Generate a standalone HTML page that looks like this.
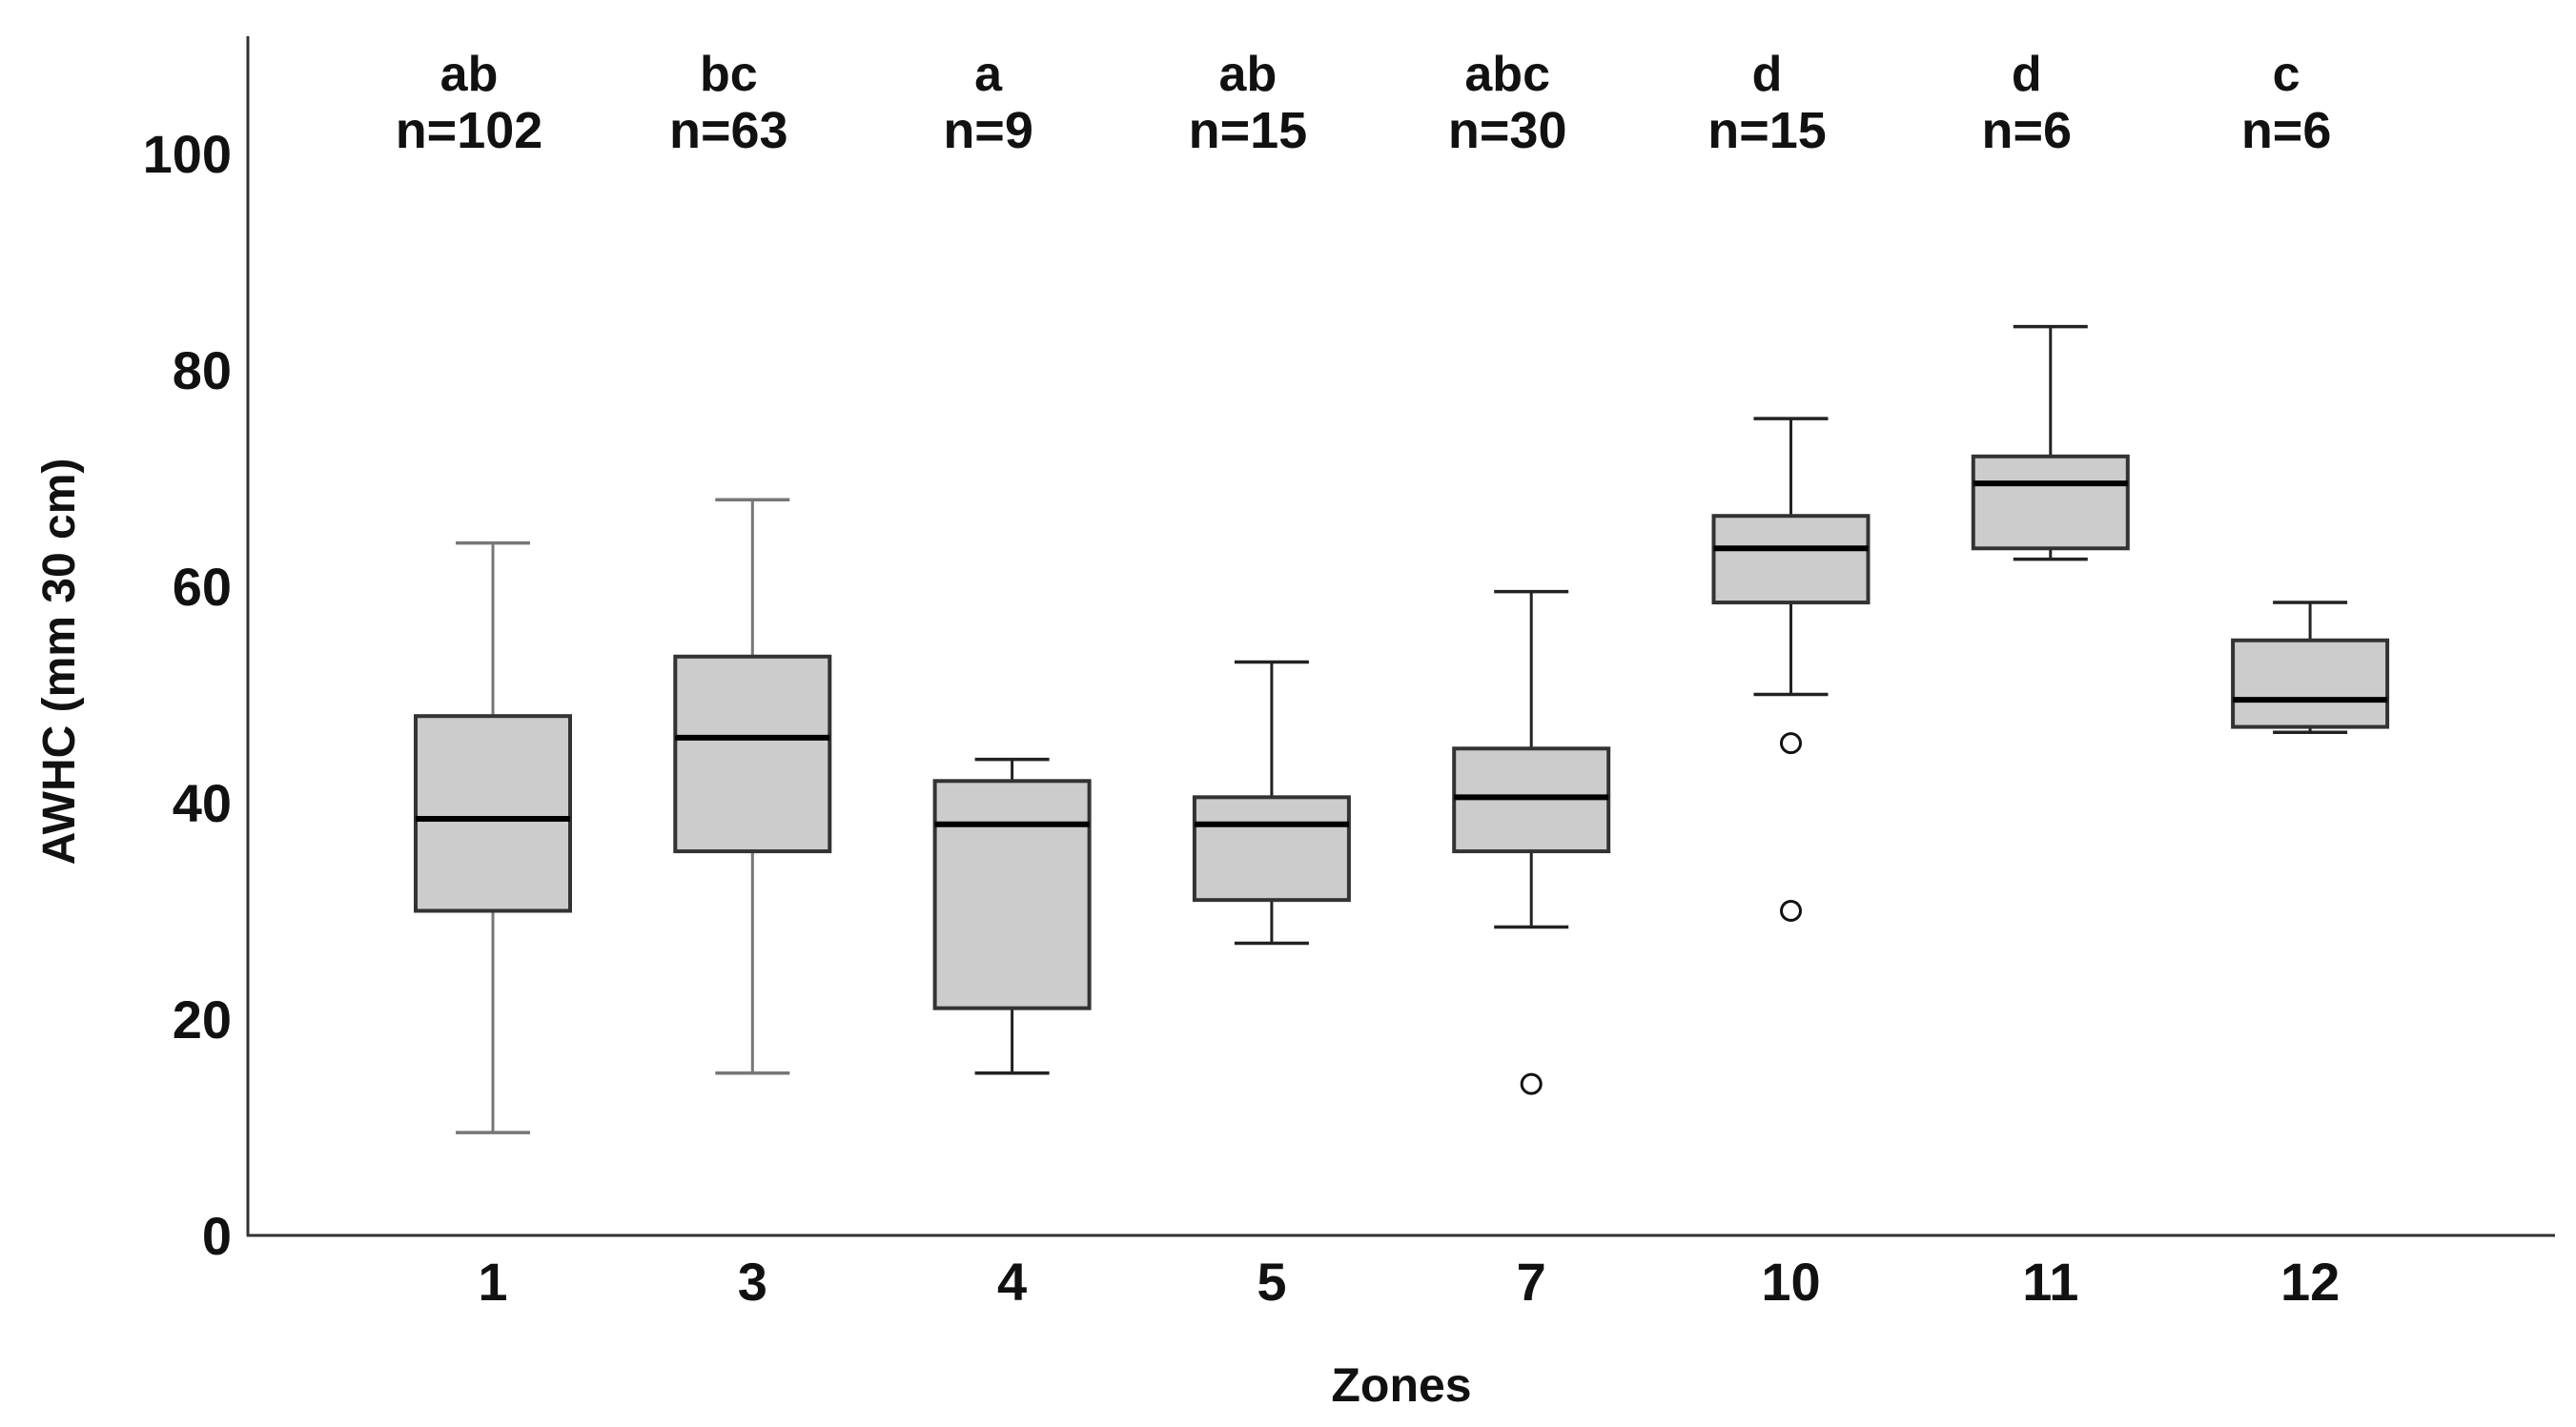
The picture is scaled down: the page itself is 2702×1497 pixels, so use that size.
<!DOCTYPE html>
<html><head><meta charset="utf-8"><style>
html,body{margin:0;padding:0;background:#fff}
svg{display:block}
text{font-family:"Liberation Sans",sans-serif;font-weight:bold;fill:#111}
</style></head><body>
<svg id="chart" width="2702" height="1497" viewBox="0 0 2702 1497" xmlns="http://www.w3.org/2000/svg">
<g id="axes"></g>
<g id="boxes"></g>
<g id="labels"></g>
<text x="1470" y="1470" font-size="50" text-anchor="middle">Zones</text>
<text transform="translate(78,694) rotate(-90)" font-size="48" text-anchor="middle">AWHC (mm 30 cm)</text>
</svg>
<script>
const categories = ["1","3","4","5","7","10","11","12"];
const whiskerHigh = [64,68,44,53,59.5,75.5,84,58.5];
const q3 = [48,53.5,42,40.5,45,66.5,72,55];
const median = [38.5,46,38,38,40.5,63.5,69.5,49.5];
const q1 = [30,35.5,21,31,35.5,58.5,63.5,47];
const whiskerLow = [9.5,15,15,27,28.5,50,62.5,46.5];
const outliers = [[],[],[],[],[14],[45.5,30],[],[]];
const groupLetters = ["ab","bc","a","ab","abc","d","d","c"];
const sampleSizes = ["n=102","n=63","n=9","n=15","n=30","n=15","n=6","n=6"];
const yTicks = [0,20,40,60,80,100];

const NS="http://www.w3.org/2000/svg";
const X0=260, Y0=1296, PXU=11.35, STEP=272.3, FIRST=517;
const y = v => Y0 - v*PXU;
const x = i => FIRST + i*STEP;
function mk(tag, attrs, parent){const e=document.createElementNS(NS,tag);for(const k in attrs)e.setAttribute(k,attrs[k]);parent.appendChild(e);return e;}
const axes=document.getElementById('axes'), boxes=document.getElementById('boxes'), labels=document.getElementById('labels');

let yl=mk('line',{x1:X0,y1:38,x2:X0,y2:Y0+1,stroke:'#333','stroke-width':3},axes);


let xl=mk('line',{x1:X0-1,y1:Y0,x2:2680,y2:Y0,stroke:'#333','stroke-width':3},axes);


yTicks.forEach(t=>{
  const e=mk('text',{x:243,y:y(t)+20,'font-size':56,'text-anchor':'end'},axes);
  e.textContent=t;
  
  
});
categories.forEach((c,i)=>{
  const cx=x(i), hw=81, cw=39;
  const wc = i<2 ? '#777' : '#222';
  const g=mk('g',{},boxes);
  
  
  mk('line',{x1:cx,y1:y(whiskerHigh[i]),x2:cx,y2:y(q3[i]),stroke:wc,'stroke-width':3},g);
  mk('line',{x1:cx,y1:y(q1[i]),x2:cx,y2:y(whiskerLow[i]),stroke:wc,'stroke-width':3},g);
  mk('line',{x1:cx-cw,y1:y(whiskerHigh[i]),x2:cx+cw,y2:y(whiskerHigh[i]),stroke:wc,'stroke-width':3.5},g);
  mk('line',{x1:cx-cw,y1:y(whiskerLow[i]),x2:cx+cw,y2:y(whiskerLow[i]),stroke:wc,'stroke-width':3.5},g);
  mk('rect',{x:cx-hw,y:y(q3[i]),width:hw*2,height:y(q1[i])-y(q3[i]),fill:'#cccccc',stroke:'#333','stroke-width':4},g);
  mk('line',{x1:cx-hw,y1:y(median[i]),x2:cx+hw,y2:y(median[i]),stroke:'#000','stroke-width':6},g);
  outliers[i].forEach(o=>{
    const ci=mk('circle',{cx:cx,cy:y(o),r:10,fill:'#fff',stroke:'#111','stroke-width':3},g);
    
    
  });
  const xt=mk('text',{x:cx,y:1364,'font-size':56,'text-anchor':'middle'},labels);
  xt.textContent=c;
  
  
  const lt=mk('text',{x:cx-25,y:95,'font-size':52,'text-anchor':'middle'},labels);
  lt.textContent=groupLetters[i];
  
  
  const nt=mk('text',{x:cx-25,y:155,'font-size':54,'text-anchor':'middle'},labels);
  nt.textContent=sampleSizes[i];
  
  
});
</script>
</body></html>
